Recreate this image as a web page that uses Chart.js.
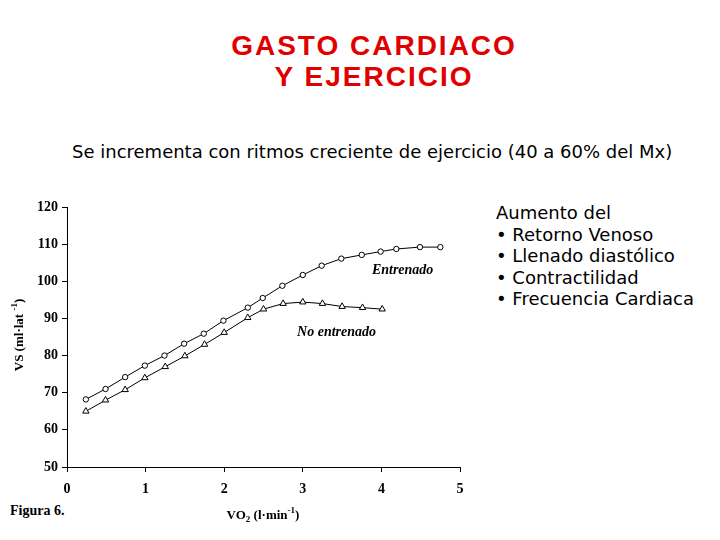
<!DOCTYPE html>
<html>
<head>
<meta charset="utf-8">
<script src="https://cdn.jsdelivr.net/npm/chart.js@4.4.0/dist/chart.umd.min.js"></script>
<style>
  body { margin: 0; width: 720px; height: 540px; background: #fff; position: relative; overflow: hidden; }
  .title { position: absolute; left: 0; width: 748px; top: 30px; text-align: center; color: #e00000;
           font: bold 28px "Liberation Sans", Arial, sans-serif; letter-spacing: 2px; line-height: 31px; }
  .subtitle { position: absolute; left: 72px; top: 141px; font: 18px "DejaVu Sans", Verdana, sans-serif; color: #000; white-space: nowrap; }
  .notes { position: absolute; left: 496px; top: 202px; font: 18px "DejaVu Sans", Verdana, sans-serif; line-height: 21.5px; color: #000; white-space: nowrap; }
  .fig { position: absolute; left: 10px; top: 503px; font: bold 14px "Liberation Serif", serif; }
  canvas { position: absolute; left: 0; top: 190px; }
</style>
</head>
<body>
<div class="title">GASTO CARDIACO<br>Y EJERCICIO</div>
<div class="subtitle">Se incrementa con ritmos creciente de ejercicio (40 a 60% del Mx)</div>
<div class="notes">Aumento del<br>• Retorno Venoso<br>• Llenado diastólico<br>• Contractilidad<br>• Frecuencia Cardiaca</div>
<div class="fig">Figura 6.</div>
<canvas id="vsChart" width="480" height="350"></canvas>
<script>
// VO2 (l/min) and stroke volume (ml/beat)
const vo2Entrenado = [0.24, 0.49, 0.74, 0.99, 1.24, 1.49, 1.74, 1.99, 2.3, 2.49, 2.74, 3.0, 3.24, 3.49, 3.75, 3.99, 4.19, 4.49, 4.75];
const vsEntrenado = [68.2, 71.0, 74.2, 77.3, 80.0, 83.2, 85.9, 89.4, 92.9, 95.5, 98.8, 101.7, 104.2, 106.1, 107.1, 108.0, 108.7, 109.2, 109.2];
const vo2NoEntrenado = [0.24, 0.49, 0.74, 0.99, 1.25, 1.5, 1.75, 2.0, 2.3, 2.5, 2.75, 3.0, 3.25, 3.5, 3.76, 4.01];
const vsNoEntrenado = [65.0, 68.0, 70.8, 74.0, 77.0, 79.9, 83.0, 86.2, 90.2, 92.5, 94.0, 94.4, 94.0, 93.2, 92.9, 92.5];

const serif = '"Liberation Serif", "Times New Roman", serif';

// series names written next to the curves
const seriesLabels = [
    { text: 'Entrenado', x: 4.27, y: 102.9 },
    { text: 'No entrenado', x: 3.43, y: 86.2 }
];

// axis titles as pieces: [text, 'sub' | 'sup' | '']
const xTitle = [['VO', ''], ['2', 'sub'], [' (l·min', ''], ['-1', 'sup'], [')', '']];
const yTitle = [['VS (ml·lat ', ''], ['-1', 'sup'], [')', '']];

// draws a title with sub/superscripts, centred on 0,0 of the current transform
function drawRich(ctx, parts, size) {
    const big = 'bold ' + size + 'px ' + serif;
    const small = 'bold ' + Math.round(size * 0.7) + 'px ' + serif;
    let total = 0;
    parts.forEach(p => { ctx.font = p[1] ? small : big; total += ctx.measureText(p[0]).width; });
    let x = -total / 2;
    ctx.textBaseline = 'middle';
    ctx.textAlign = 'left';
    parts.forEach(p => {
        ctx.font = p[1] ? small : big;
        const dy = p[1] === 'sub' ? 4 : p[1] === 'sup' ? -5 : 0;
        ctx.fillText(p[0], x, dy);
        x += ctx.measureText(p[0]).width;
    });
}

const chartTexts = {
    id: 'chartTexts',
    afterDatasetsDraw(chart) {
        const { ctx, scales, chartArea } = chart;
        ctx.save();
        ctx.fillStyle = '#000';
        ctx.font = 'italic bold 14px ' + serif;
        ctx.textAlign = 'center';
        ctx.textBaseline = 'middle';
        seriesLabels.forEach(l => {
            ctx.fillText(l.text, scales.x.getPixelForValue(l.x), scales.y.getPixelForValue(l.y));
        });
        // x title
        ctx.save();
        ctx.translate(263, chartArea.bottom + 49);
        drawRich(ctx, xTitle, 13);
        ctx.restore();
        // y title
        ctx.save();
        ctx.translate(20, (chartArea.top + chartArea.bottom) / 2 - 2);
        ctx.rotate(-Math.PI / 2);
        drawRich(ctx, yTitle, 13);
        ctx.restore();
        ctx.restore();
    }
};

const toPoints = (xs, ys) => xs.map((x, i) => ({ x: x, y: ys[i] }));

new Chart(document.getElementById('vsChart'), {
    type: 'scatter',
    data: {
        datasets: [{
            label: 'Entrenado',
            data: toPoints(vo2Entrenado, vsEntrenado),
            showLine: true,
            borderColor: '#000',
            borderWidth: 1,
            pointStyle: 'circle',
            pointRadius: 2.7,
            pointBackgroundColor: '#fff',
            pointBorderColor: '#000',
            pointBorderWidth: 1
        }, {
            label: 'No entrenado',
            data: toPoints(vo2NoEntrenado, vsNoEntrenado),
            showLine: true,
            borderColor: '#000',
            borderWidth: 1,
            pointStyle: 'triangle',
            pointRadius: 3.7,
            pointBackgroundColor: '#fff',
            pointBorderColor: '#000',
            pointBorderWidth: 1
        }]
    },
    options: {
        responsive: false,
        animation: false,
        layout: { padding: { top: 17, right: 20, left: 0, bottom: 0 } },
        plugins: { legend: { display: false }, tooltip: { enabled: false } },
        scales: {
            x: {
                type: 'linear',
                min: 0, max: 5,
                ticks: { stepSize: 1, color: '#000', font: { family: serif, size: 14, weight: 'bold' }, padding: 9 },
                grid: { drawOnChartArea: false, drawTicks: true, tickLength: 5, color: '#000' },
                border: { color: '#000', width: 1 },
                afterFit(scale) { scale.height = 73; }
            },
            y: {
                min: 50, max: 120,
                ticks: { stepSize: 10, color: '#000', font: { family: serif, size: 14, weight: 'bold' }, padding: 4 },
                grid: { drawOnChartArea: false, drawTicks: true, tickLength: 5, color: '#000' },
                border: { color: '#000', width: 1 },
                afterFit(scale) { scale.width = 67; }
            }
        }
    },
    plugins: [chartTexts]
});
</script>
</body>
</html>
